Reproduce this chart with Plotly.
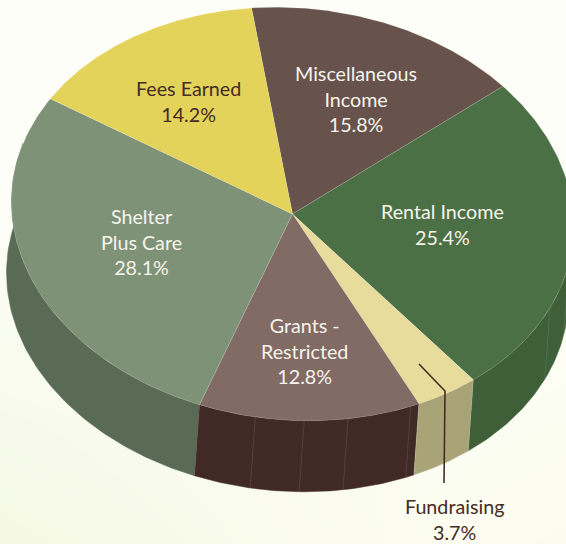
import numpy as np
import plotly.graph_objects as go

categories = ["Miscellaneous<br>Income", "Rental Income", "Fundraising", "Grants -<br>Restricted", "Shelter<br>Plus Care", "Fees Earned"]
shares = [15.8, 25.4, 3.7, 12.8, 28.1, 14.2]
top_colors = ["#67524c", "#4b7045", "#e8dc9c", "#826a65", "#7e9277", "#e3d35a"]
wall_colors = ["#67524c", "#3f5f39", "#a9a478", "#412a25", "#596b55", "#e3d35a"]
text_colors = ["#f6f4ec", "#f6f4ec", "#452b23", "#f6f4ec", "#f6f4ec", "#452b23"]
label_x = [356, 442, 454, 304, 141, 188]
label_y = [99, 224, 519, 351, 242, 101]
seams = [109, 122, 163.5, 177, 186, 196]

W, H = 566, 544
C = np.array([292.5, 214.0])
U = np.array([-41.0, -206.0])
V = np.array([278.0, -18.0])
D = np.array([-5.0, 71.0])


def rim(deg):
    t = np.radians(deg)
    return C[0] + U[0]*np.cos(t) + V[0]*np.sin(t), C[1] + U[1]*np.cos(t) + V[1]*np.sin(t)


fig = go.Figure()

# soft background wash
gx = np.linspace(0, 1, 142)
gy = np.linspace(0, 1, 136)
X, Y = np.meshgrid(gx, gy)
base = np.array([253, 254, 248.0])
green = np.array([-9, -6, -20.0])
cream = np.array([-1, -2, -10.0])
wl = np.clip((Y - 0.35)/0.65, 0, 1)*np.clip(1 - X/0.75, 0, 1)
wr = np.clip((Y - 0.35)/0.65, 0, 1)*np.clip(X, 0, 1)
img = base + wl[..., None]*green + wr[..., None]*cream
fig.add_trace(go.Image(z=img.round().astype(np.uint8), x0=2, y0=2, dx=4, dy=4, hoverinfo="skip"))

edges = np.cumsum([0] + shares)*3.6

# walls
for i in [4, 1, 3, 2]:
    a, b = edges[i], edges[i+1]
    if i == 1:
        a = 85
    if i == 4:
        b = 295
    th = np.linspace(a, b, 80)
    x, y = rim(th)
    px = np.concatenate([x, x[::-1] + D[0]])
    py = np.concatenate([y, y[::-1] + D[1]])
    fig.add_trace(go.Scatter(x=px, y=py, mode="lines", fill="toself", fillcolor=wall_colors[i],
                             line=dict(color=wall_colors[i], width=0.5), hoverinfo="skip", showlegend=False))

# wall seams
for s in seams:
    x, y = rim(np.array([s, s]))
    fig.add_trace(go.Scatter(x=[x[0], x[1] + D[0]], y=[y[0], y[1] + D[1]], mode="lines",
                             line=dict(color="rgba(255,255,255,0.13)", width=0.8), hoverinfo="skip", showlegend=False))
for e in [edges[1], edges[2], edges[3], edges[4]]:
    x, y = rim(np.array([e, e]))
    fig.add_trace(go.Scatter(x=[x[0], x[1] + D[0]], y=[y[0], y[1] + D[1]], mode="lines",
                             line=dict(color="rgba(255,255,255,0.18)", width=0.6), hoverinfo="skip", showlegend=False))

# top faces
for i in range(len(shares)):
    th = np.linspace(edges[i], edges[i+1], 120)
    x, y = rim(th)
    px = np.concatenate([[C[0]], x, [C[0]]])
    py = np.concatenate([[C[1]], y, [C[1]]])
    fig.add_trace(go.Scatter(x=px, y=py, mode="lines", fill="toself", fillcolor=top_colors[i],
                             line=dict(color="rgba(255,255,255,0.22)", width=0.6),
                             name=categories[i].replace("<br>", " "), hoverinfo="skip", showlegend=False))

# leader of the Fundraising label
fig.add_trace(go.Scatter(x=[419, 445, 444], y=[364, 391, 483], mode="lines",
                         line=dict(color="#452b23", width=1.6), hoverinfo="skip", showlegend=False))

for c, s, lx, ly, col in zip(categories, shares, label_x, label_y, text_colors):
    fig.add_annotation(x=lx, y=ly, xref="x", yref="y", text=f"{c}<br>{s}%", showarrow=False,
                       font=dict(family="Lato", size=19.7, color=col), align="center")

fig.update_xaxes(range=[0, W], visible=False, fixedrange=True)
fig.update_yaxes(range=[H, 0], visible=False, fixedrange=True)
fig.update_layout(width=W, height=H, margin=dict(l=0, r=0, t=0, b=0),
                  paper_bgcolor="#fcfdf7", plot_bgcolor="rgba(0,0,0,0)", showlegend=False)
fig.write_html("out.html", config=dict(displayModeBar=False),
               post_script="document.documentElement.style.overflow='hidden';document.body.style.margin='0';")
